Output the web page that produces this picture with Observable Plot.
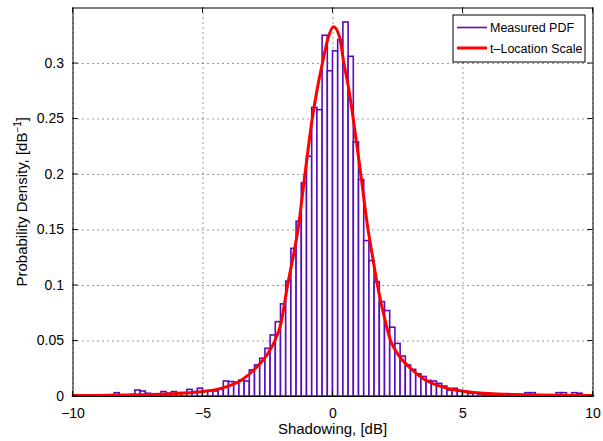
<!DOCTYPE html>
<html>
<head>
<meta charset="utf-8">
<script src="https://cdn.jsdelivr.net/npm/d3@7"></script>
<script src="https://cdn.jsdelivr.net/npm/@observablehq/plot@0.6"></script>
<style>
  html, body { margin: 0; padding: 0; background: white; }
  #chart svg { display: block; }
</style>
</head>
<body>
<div id="chart"></div>
<script>
// Histogram bin centres (dB), bin width 0.2 dB
const binCenters = [
  -9.9,-9.7,-9.5,-9.3,-9.1,-8.9,-8.7,-8.5,-8.3,-8.1,
  -7.9,-7.7,-7.5,-7.3,-7.1,-6.9,-6.7,-6.5,-6.3,-6.1,
  -5.9,-5.7,-5.5,-5.3,-5.1,-4.9,-4.7,-4.5,-4.3,-4.1,
  -3.9,-3.7,-3.5,-3.3,-3.1,-2.9,-2.7,-2.5,-2.3,-2.1,
  -1.9,-1.7,-1.5,-1.3,-1.1,-0.9,-0.7,-0.5,-0.3,-0.1,
  0.1,0.3,0.5,0.7,0.9,1.1,1.3,1.5,1.7,1.9,
  2.1,2.3,2.5,2.7,2.9,3.1,3.3,3.5,3.7,3.9,
  4.1,4.3,4.5,4.7,4.9,5.1,5.3,5.5,5.7,5.9,
  6.1,6.3,6.5,6.7,6.9,7.1,7.3,7.5,7.7,7.9,
  8.1,8.3,8.5,8.7,8.9,9.1,9.3,9.5,9.7,9.9
];
const binWidth = 0.2;
// Measured PDF (bar heights)
const measuredPDF = [
  0, 0, 0.0005, 0, 0.0005, 0.0005, 0, 0.001, 0.003, 0.001,
  0.001, 0.0015, 0.0054, 0.0045, 0.0025, 0.002, 0.002, 0.004, 0.0025, 0.004,
  0.003, 0.003, 0.006, 0.004, 0.007, 0.0045, 0.005, 0.0045, 0.006, 0.0135,
  0.013, 0.0123, 0.0144, 0.0135, 0.0235, 0.028, 0.034, 0.043, 0.055, 0.067,
  0.083, 0.1035, 0.133, 0.1575, 0.192, 0.216, 0.260, 0.258, 0.325, 0.293,
  0.311, 0.321, 0.337, 0.306, 0.229, 0.195, 0.140, 0.122, 0.103, 0.085,
  0.077, 0.062, 0.0474, 0.036, 0.028, 0.024, 0.020, 0.0176, 0.014, 0.0135,
  0.0114, 0.009, 0.0054, 0.007, 0.0048, 0.004, 0.0024, 0.003, 0.0018, 0.0015,
  0.001, 0.0015, 0.001, 0.001, 0.0005, 0.001, 0.0005, 0.003, 0.003, 0.0005,
  0.001, 0.0005, 0.001, 0.003, 0.003, 0.001, 0.003, 0.0025, 0.0005, 0
];
// t-Location Scale fitted curve
const fitX = [-10, -9, -8, -7, -6, -5, -4.5, -4, -3.5, -3, -2.5, -2.24, -2, -1.75, -1.5, -1.35,
  -1.08, -0.8, -0.6, -0.41, -0.2, 0.02, 0.25, 0.42, 0.6, 0.78, 1.07, 1.35, 1.5, 1.71, 2, 2.22,
  2.5, 3, 3.5, 4, 4.5, 5, 6, 7, 8, 9, 10];
const fitY = [0.0008, 0.001, 0.0013, 0.0018, 0.0027, 0.0045, 0.0062, 0.0095, 0.015, 0.025, 0.039, 0.05,
  0.066, 0.1, 0.13, 0.15, 0.2, 0.25, 0.278, 0.3, 0.322, 0.333, 0.324, 0.3, 0.278, 0.25, 0.2, 0.15,
  0.129, 0.1, 0.069, 0.05, 0.038, 0.025, 0.0155, 0.0102, 0.0068, 0.0048, 0.0027, 0.0018, 0.0013, 0.001, 0.0008];

const xTicks = [-10, -5, 0, 5, 10];
const yTicks = [0, 0.05, 0.1, 0.15, 0.2, 0.25, 0.3];
const seriesNames = ["Measured PDF", "t\u2013Location Scale"];
const xLabel = "Shadowing, [dB]";
const yLabelMain = "Probability Density, [dB";
const yLabelSup = "\u22121";

const purple = "#5a0cbc";
const red = "#ff0000";

const bins = binCenters.map((c, i) => ({x1: c - binWidth / 2, x2: c + binWidth / 2, d: measuredPDF[i]}));
const fit = fitX.map((x, i) => ({x, y: fitY[i]}));
const fmtX = d => d < 0 ? "\u2212" + Math.abs(d) : String(d);

const gridStyle = {stroke: "#000", strokeOpacity: 0.8, strokeDasharray: "1,4"};

const chart = Plot.plot({
  width: 603,
  height: 441,
  marginLeft: 72.5,
  marginRight: 10.5,
  marginTop: 7.5,
  marginBottom: 45,
  style: {fontFamily: "'Liberation Sans', Arial, sans-serif", fontSize: "14px", background: "white", color: "black"},
  x: {domain: [-10, 10]},
  y: {domain: [0, 0.35]},
  marks: [
    Plot.gridX(xTicks, gridStyle),
    Plot.gridY(yTicks, gridStyle),
    Plot.rect(bins, {x1: "x1", x2: "x2", y1: 0, y2: "d", fill: "white", stroke: purple, strokeWidth: 1.6}),
    Plot.line(fit, {x: "x", y: "y", stroke: red, strokeWidth: 3, curve: "monotone-x"}),
    Plot.frame({stroke: "black", strokeWidth: 1}),
    Plot.axisX(xTicks, {tickSize: 0, tickPadding: 12, fontSize: 14, tickFormat: fmtX, label: null}),
    Plot.axisY(yTicks, {tickSize: 0, tickPadding: 9, fontSize: 14, tickFormat: d => String(d), label: null})
  ]
});

const sx = chart.scale("x"), sy = chart.scale("y");
const svg = d3.select(chart);
const pLeft = sx.apply(-10), pRight = sx.apply(10), pBottom = sy.apply(0), pTop = sy.apply(0.35);
const tk = 5;
const tg = svg.append("g").attr("stroke", "black").attr("stroke-width", 1);
xTicks.forEach(v => {
  const px = sx.apply(v);
  tg.append("line").attr("x1", px).attr("x2", px).attr("y1", pBottom).attr("y2", pBottom - tk);
  tg.append("line").attr("x1", px).attr("x2", px).attr("y1", pTop).attr("y2", pTop + tk);
});
yTicks.forEach(v => {
  const py = sy.apply(v);
  tg.append("line").attr("y1", py).attr("y2", py).attr("x1", pLeft).attr("x2", pLeft + tk);
  tg.append("line").attr("y1", py).attr("y2", py).attr("x1", pRight).attr("x2", pRight - tk);
});

// axis labels
svg.append("text")
  .attr("x", (pLeft + pRight) / 2).attr("y", 434)
  .attr("text-anchor", "middle").attr("font-size", 15).attr("fill", "black")
  .text(xLabel);
const yl = svg.append("text")
  .attr("transform", `translate(27,${(pTop + pBottom) / 2}) rotate(-90)`)
  .attr("text-anchor", "middle").attr("font-size", 15).attr("fill", "black");
yl.append("tspan").text(yLabelMain);
yl.append("tspan").attr("font-size", 10).attr("dy", "-0.6em").text(yLabelSup);
yl.append("tspan").attr("dy", "0.4em").text("]");

// legend
const lg = svg.append("g").attr("font-size", 12.5).attr("text-anchor", "start");
lg.append("rect").attr("x", 453).attr("y", 15).attr("width", 132).attr("height", 47)
  .attr("fill", "white").attr("stroke", "black").attr("stroke-width", 1);
const legendRows = [
  {name: seriesNames[0], color: purple, w: 1.6, ly: 27.5, ty: 32},
  {name: seriesNames[1], color: red, w: 3, ly: 48, ty: 52.5}
];
legendRows.forEach(r => {
  lg.append("line").attr("x1", 457).attr("x2", 487).attr("y1", r.ly).attr("y2", r.ly)
    .attr("stroke", r.color).attr("stroke-width", r.w);
  lg.append("text").attr("x", 490).attr("y", r.ty).attr("text-anchor", "start").attr("fill", "black").text(r.name);
});

document.getElementById("chart").appendChild(chart);
</script>
</body>
</html>
